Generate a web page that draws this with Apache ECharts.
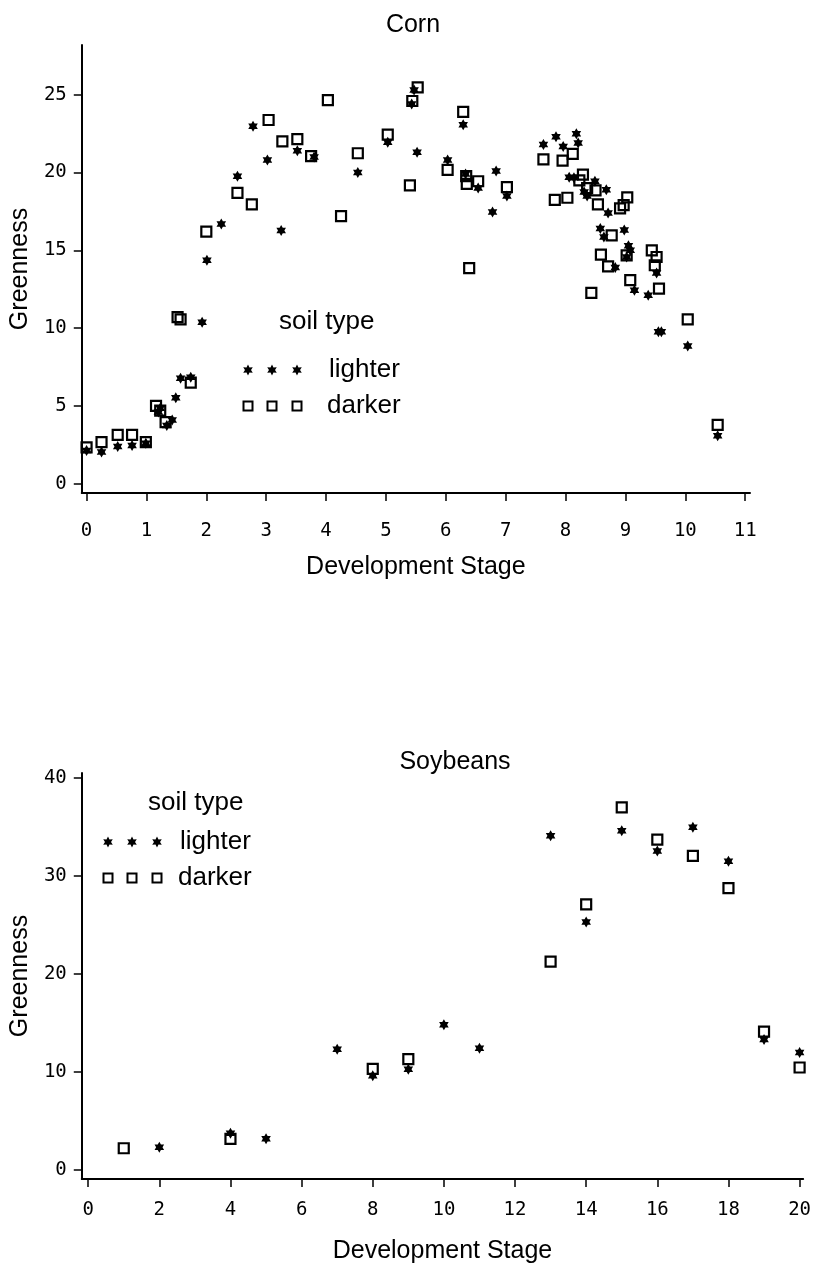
<!DOCTYPE html>
<html><head><meta charset="utf-8">
<script src="https://cdn.jsdelivr.net/npm/echarts@6/dist/echarts.min.js"></script>
<style>html,body{margin:0;padding:0;background:#fff}#c{width:814px;height:1271px}</style>
</head><body><div id="c"></div>
<script>
// ---- Data ----
const cornLighter = [
  [0.0,2.13],[0.25,2.03],[0.52,2.39],[0.76,2.45],[0.99,2.6],[1.2,4.6],[1.23,4.85],[1.34,3.74],[1.43,4.1],
  [1.49,5.53],[1.57,6.78],[1.74,6.84],[1.93,10.37],[2.01,14.36],[2.25,16.7],[2.52,19.76],[2.78,22.97],
  [3.02,20.8],[3.25,16.28],[3.52,21.4],[3.8,21.0],[4.53,20.0],[5.03,21.95],[5.43,24.4],[5.47,25.3],
  [5.52,21.3],[6.03,20.8],[6.29,23.08],[6.33,19.9],[6.54,19.0],[6.78,17.46],[6.84,20.1],[7.02,18.5],
  [7.63,21.8],[7.84,22.3],[7.96,21.67],[8.18,22.5],[8.21,21.9],[8.06,19.7],[8.14,19.66],[8.31,18.75],
  [8.36,18.5],[8.49,19.44],[8.68,18.9],[8.71,17.4],[8.58,16.4],[8.64,15.85],[8.98,16.3],[9.05,15.3],
  [9.08,15.0],[9.02,14.57],[9.52,13.55],[8.83,13.89],[9.15,12.44],[9.38,12.12],[9.55,9.76],[9.6,9.76],
  [10.04,8.85],[10.54,3.08]
];
const cornDarker = [
  [0.0,2.33],[0.25,2.67],[0.52,3.14],[0.76,3.14],[0.99,2.67],[1.16,5.0],[1.23,4.7],[1.32,3.95],
  [1.52,10.7],[1.57,10.56],[1.74,6.5],[2.0,16.2],[2.52,18.7],[2.76,17.95],[3.04,23.38],[3.27,22.0],
  [3.52,22.15],[3.75,21.05],[4.03,24.66],[4.25,17.2],[4.53,21.24],[5.03,22.44],[5.40,19.17],[5.44,24.6],
  [5.53,25.47],[6.03,20.17],[6.29,23.9],[6.34,19.77],[6.35,19.27],[6.39,13.85],[6.54,19.44],[7.02,19.06],
  [7.63,20.85],[7.82,18.25],[7.95,20.77],[8.03,18.38],[8.12,21.2],[8.23,19.5],[8.29,19.87],[8.36,19.0],
  [8.43,12.27],[8.5,18.85],[8.54,17.95],[8.59,14.72],[8.71,13.97],[8.77,15.96],[8.91,17.7],[8.97,17.9],
  [9.02,14.68],[9.03,18.4],[9.08,13.08],[9.44,15.0],[9.49,14.04],[9.52,14.57],[9.56,12.54],[10.04,10.56],
  [10.54,3.78]
];
const soyLighter = [
  [2,2.3],[4,3.74],[5,3.16],[7,12.3],[8,9.6],[9,10.27],[10,14.8],[11,12.4],[13,34.1],[14,25.3],
  [15,34.6],[16,32.55],[17,34.97],[18,31.5],[19,13.3],[20,11.97]
];
const soyDarker = [
  [1,2.2],[4,3.16],[8,10.3],[9,11.3],[13,21.25],[14,27.1],[15,37.0],[16,33.7],[17,32.04],[18,28.74],
  [19,14.1],[20,10.44]
];
const cornXTicks = [0,1,2,3,4,5,6,7,8,9,10,11];
const cornYTicks = [0,5,10,15,20,25];
const soyXTicks = [0,2,4,6,8,10,12,14,16,18,20];
const soyYTicks = [0,10,20,30,40];
const seriesNames = ['lighter','darker'];
const legendTitle = 'soil type';
const xName = 'Development Stage';
const yName = 'Greenness';

// ---- Styling ----
const STAR = 'path://M0,-10L2.9,-5L8.7,-5L5.8,0L8.7,5L2.9,5L0,10L-2.9,5L-8.7,5L-5.8,0L-8.7,-5L-2.9,-5Z';
const SANS = '"Liberation Sans", Arial, sans-serif';
const MONO = '"DejaVu Sans Mono", monospace';

function xAxis(grid, min, max, ticks, margin, gap) {
  return {
    gridIndex: grid, type: 'value', min, max,
    axisLine: {show: true, onZero: false, lineStyle: {color: '#000', width: 2}},
    axisTick: {show: true, length: 8, customValues: ticks, lineStyle: {color: '#000', width: 1.5}},
    axisLabel: {customValues: ticks, margin, fontFamily: MONO, fontSize: 19, color: '#000'},
    splitLine: {show: false},
    name: xName, nameLocation: 'middle', nameGap: gap,
    nameTextStyle: {fontFamily: SANS, fontSize: 25, color: '#000'}
  };
}
function yAxis(grid, min, max, ticks, margin, gap) {
  return {
    gridIndex: grid, type: 'value', min, max,
    axisLine: {show: true, onZero: false, lineStyle: {color: '#000', width: 2}},
    axisTick: {show: true, length: 8, customValues: ticks, lineStyle: {color: '#000', width: 1.5}},
    axisLabel: {customValues: ticks, margin, fontFamily: MONO, fontSize: 19, color: '#000'},
    splitLine: {show: false},
    name: yName, nameLocation: 'middle', nameGap: gap,
    nameTextStyle: {fontFamily: SANS, fontSize: 25, color: '#000'}
  };
}
function starSeries(name, data, idx) {
  return {name, type: 'scatter', xAxisIndex: idx, yAxisIndex: idx, data,
    symbol: STAR, symbolKeepAspect: true, symbolSize: 11,
    itemStyle: {color: '#000', opacity: 1}, z: 3};
}
function squareSeries(name, data, idx) {
  return {name, type: 'scatter', xAxisIndex: idx, yAxisIndex: idx, data,
    symbol: 'rect', symbolSize: 10,
    itemStyle: {color: 'rgba(0,0,0,0)', borderColor: '#000', borderWidth: 2.2, opacity: 1}, z: 2};
}
function starPoints(cx, cy, r) {
  const pts = [];
  for (let i = 0; i < 12; i++) {
    const a = -Math.PI / 2 + i * Math.PI / 6;
    const rr = i % 2 === 0 ? r : r * 0.55;
    pts.push([cx + rr * Math.cos(a), cy + rr * Math.sin(a)]);
  }
  return pts;
}
function legendGraphic(titleX, titleY, symX, starY, sqY, labelX1, labelX2) {
  const g = [];
  g.push({type: 'text', x: titleX, y: titleY,
    style: {text: legendTitle, font: '26px ' + SANS, fill: '#000', textVerticalAlign: 'middle', verticalAlign: 'middle'}});
  symX.forEach(x => {
    g.push({type: 'polygon', shape: {points: starPoints(x, starY, 5.5)}, style: {fill: '#000'}});
    g.push({type: 'rect', shape: {x: x - 4.5, y: sqY - 4.5, width: 9, height: 9},
      style: {fill: 'none', stroke: '#000', lineWidth: 2}});
  });
  g.push({type: 'text', x: labelX1, y: starY,
    style: {text: seriesNames[0], font: '26px ' + SANS, fill: '#000', textVerticalAlign: 'middle', verticalAlign: 'middle'}});
  g.push({type: 'text', x: labelX2, y: sqY,
    style: {text: seriesNames[1], font: '26px ' + SANS, fill: '#000', textVerticalAlign: 'middle', verticalAlign: 'middle'}});
  return g;
}

const chart = echarts.init(document.getElementById('c'), null, {renderer: 'canvas'});
chart.setOption({
  backgroundColor: '#fff',
  animation: false,
  title: [
    {text: 'Corn', left: 408, top: 8, textAlign: 'center',
      textStyle: {fontFamily: SANS, fontSize: 25, fontWeight: 'normal', color: '#000'}},
    {text: 'Soybeans', left: 450, top: 745, textAlign: 'center',
      textStyle: {fontFamily: SANS, fontSize: 25, fontWeight: 'normal', color: '#000'}}
  ],
  grid: [
    {left: 75, top: 45, width: 675, height: 448},
    {left: 74, top: 773, width: 739, height: 406}
  ],
  xAxis: [xAxis(0, -0.08, 11.08, cornXTicks, 29, 62), xAxis(1, -0.18, 20.1, soyXTicks, 22, 60)],
  yAxis: [yAxis(0, -0.6, 28.2, cornYTicks, 15, 45), yAxis(1, -0.94, 40.5, soyYTicks, 15, 45)],
  series: [
    squareSeries(seriesNames[1], cornDarker, 0),
    starSeries(seriesNames[0], cornLighter, 0),
    squareSeries(seriesNames[1], soyDarker, 1),
    starSeries(seriesNames[0], soyLighter, 1)
  ],
  graphic: [].concat(
    legendGraphic(279, 322, [248, 272, 297], 370, 406, 329, 327),
    legendGraphic(148, 803, [108, 132, 157], 842, 878, 180, 178)
  )
});
</script></body></html>
